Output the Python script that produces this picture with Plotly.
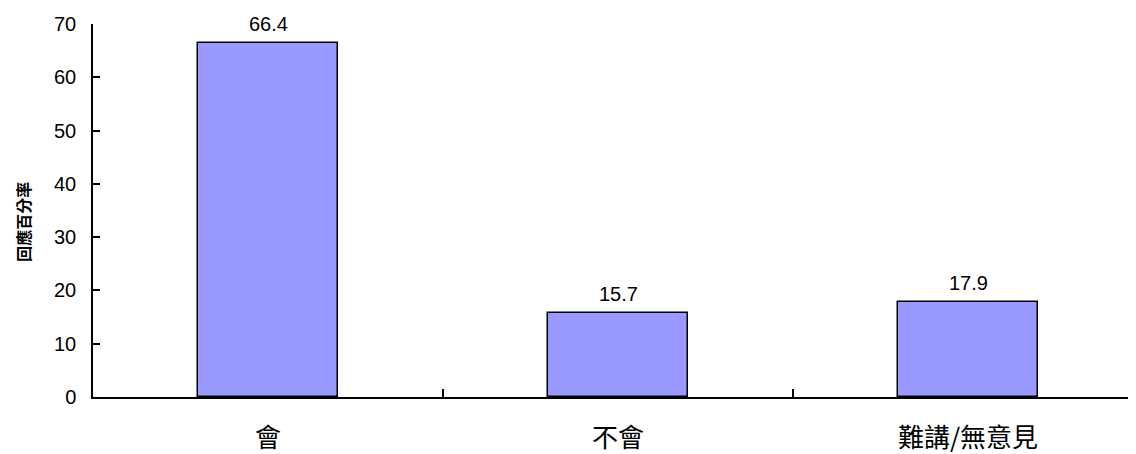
import plotly.graph_objects as go

categories = ["會", "不會", "難講/無意見"]
values = [66.4, 15.7, 17.9]
y_ticks = [0, 10, 20, 30, 40, 50, 60, 70]
y_title = "回應百分率"

font_fam = "Liberation Sans, Arial, Noto Sans CJK TC, sans-serif"
cjk_fam = "Noto Sans CJK TC, sans-serif"

fig = go.Figure(go.Bar(
    x=categories, y=values,
    width=0.4,
    marker=dict(color="#9999FF", line=dict(color="black", width=1.5)),
    cliponaxis=False,
))

for c, v in zip(categories, values):
    fig.add_annotation(
        x=c, y=v, text=f"{v:.1f}", showarrow=False,
        yanchor="bottom", yshift=6,
        font=dict(size=20, color="black", family=font_fam),
    )

fig.add_annotation(
    xref="paper", yref="paper", x=0, y=0.47, xshift=-70,
    xanchor="center", yanchor="middle", textangle=-90,
    text=f"<b>{y_title}</b>", showarrow=False,
    font=dict(size=16, family=cjk_fam, color="black"),
)

fig.update_layout(
    width=1128, height=446,
    margin=dict(l=85, r=0, t=16, b=57),
    paper_bgcolor="white", plot_bgcolor="white",
    font=dict(family=font_fam, color="black"),
    showlegend=False,
    bargap=0,
)
fig.update_xaxes(
    type="category",
    range=[-0.5, 2.48],
    automargin=False,
    showline=True, linecolor="black", linewidth=1.5,
    ticks="inside", ticklen=8, tickcolor="black", tickwidth=1.5,
    tickson="boundaries",
    tickfont=dict(size=26, family=cjk_fam, color="black"),
    ticklabelstandoff=17,
    showgrid=False, zeroline=False,
)
fig.update_yaxes(
    range=[0, 70], tickvals=y_ticks,
    automargin=False,
    showline=True, linecolor="black", linewidth=1.5,
    ticks="inside", ticklen=7, tickcolor="black", tickwidth=1.5,
    tickfont=dict(size=20, color="black"),
    ticklabelstandoff=11,
    showgrid=False, zeroline=False,
)

fig.write_html("out.html")
